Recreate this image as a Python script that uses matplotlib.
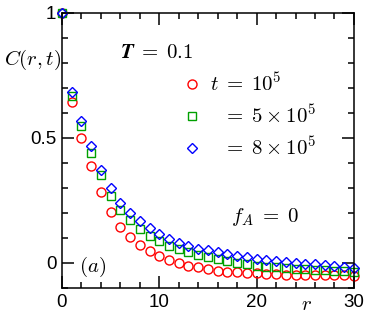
import matplotlib
matplotlib.use("Agg")
import matplotlib.pyplot as plt
from matplotlib.ticker import MultipleLocator

plt.rcParams['mathtext.fontset'] = 'cm'
plt.rcParams['font.family'] = 'Liberation Sans'

# distance r and correlation C(r,t) for three times
r = [0, 1, 2, 3, 4, 5, 6, 7, 8, 9, 10, 11, 12, 13, 14, 15,
     16, 17, 18, 19, 20, 21, 22, 23, 24, 25, 26, 27, 28, 29, 30]

c_t1 = [1.0, 0.643, 0.499, 0.386, 0.284, 0.204, 0.142, 0.103, 0.071, 0.047,
        0.027, 0.010, -0.002, -0.012, -0.018, -0.025, -0.032, -0.036, -0.038,
        -0.041, -0.042, -0.044, -0.045, -0.046, -0.047, -0.047, -0.048,
        -0.048, -0.049, -0.049, -0.050]

c_t2 = [1.0, 0.668, 0.548, 0.440, 0.351, 0.268, 0.212, 0.171, 0.135, 0.108,
        0.087, 0.068, 0.055, 0.042, 0.032, 0.024, 0.015, 0.006, 0.000,
        -0.006, -0.011, -0.015, -0.018, -0.021, -0.023, -0.025, -0.027,
        -0.029, -0.031, -0.033, -0.035]

c_t3 = [1.0, 0.682, 0.568, 0.468, 0.372, 0.298, 0.241, 0.199, 0.166, 0.138,
        0.115, 0.095, 0.078, 0.066, 0.057, 0.050, 0.043, 0.036, 0.029,
        0.023, 0.017, 0.012, 0.008, 0.004, 0.000, -0.003, -0.006, -0.010,
        -0.013, -0.016, -0.020]

labels = [r"$t\;=\;10^5$", r"$\;\;\,=\;5 \times 10^5$", r"$\;\;\,=\;8 \times 10^5$"]

fig = plt.figure(figsize=(3.71, 3.16), dpi=100)
ax = fig.add_axes([0.167, 0.0886, 0.787, 0.8704])

style = dict(linestyle='none', markerfacecolor='none', markeredgewidth=1.0, clip_on=False)
ax.plot(r, c_t1, marker='o', markersize=6.5, markeredgecolor='#ff0000', label=labels[0], **style)
ax.plot(r, c_t2, marker='s', markersize=6, markeredgecolor='#00a000', label=labels[1], **style)
ax.plot(r, c_t3, marker='D', markersize=5.5, markeredgecolor='#0000ff', label=labels[2], **style)

ax.set_xlim(0, 30)
ax.set_ylim(-0.1, 1.0)
ax.xaxis.set_major_locator(MultipleLocator(10))
ax.xaxis.set_minor_locator(MultipleLocator(2))
ax.yaxis.set_major_locator(MultipleLocator(0.5))
ax.yaxis.set_minor_locator(MultipleLocator(0.1))
ax.set_xticks([0, 10, 20, 30])
ax.set_xticklabels(["0", "10", "20", "30"])
ax.set_yticks([0, 0.5, 1])
ax.set_yticklabels(["0", "0.5", "1"])

ax.tick_params(which='both', direction='in', top=True, right=True, width=1.1, labelsize=13.5)
ax.tick_params(which='major', length=8.5, pad=4)
ax.tick_params(which='minor', length=4.3)
for s in ax.spines.values():
    s.set_linewidth(1.1)

leg = ax.legend(loc='center left', bbox_to_anchor=(0.422, 0.627), frameon=False,
                fontsize=15, handlelength=0.7, handletextpad=0.5, labelspacing=0.42,
                borderpad=0, borderaxespad=0)

ax.text(0.324, 0.855, r"$\boldsymbol{T\;=\;0.1}$", transform=ax.transAxes,
        ha='center', va='center', fontsize=15)
ax.text(0.695, 0.258, r"$f_A\;=\;0$", transform=ax.transAxes,
        ha='center', va='center', fontsize=15)
ax.text(0.106, 0.075, r"$(a)$", transform=ax.transAxes,
        ha='center', va='center', fontsize=15)
ax.text(0.839, -0.06, r"$r$", transform=ax.transAxes,
        ha='center', va='center', fontsize=15)
fig.text(0.089, 0.81, r"$C(r,t)$", ha='center', va='center', fontsize=15)

fig.savefig("out.png", dpi=100)
